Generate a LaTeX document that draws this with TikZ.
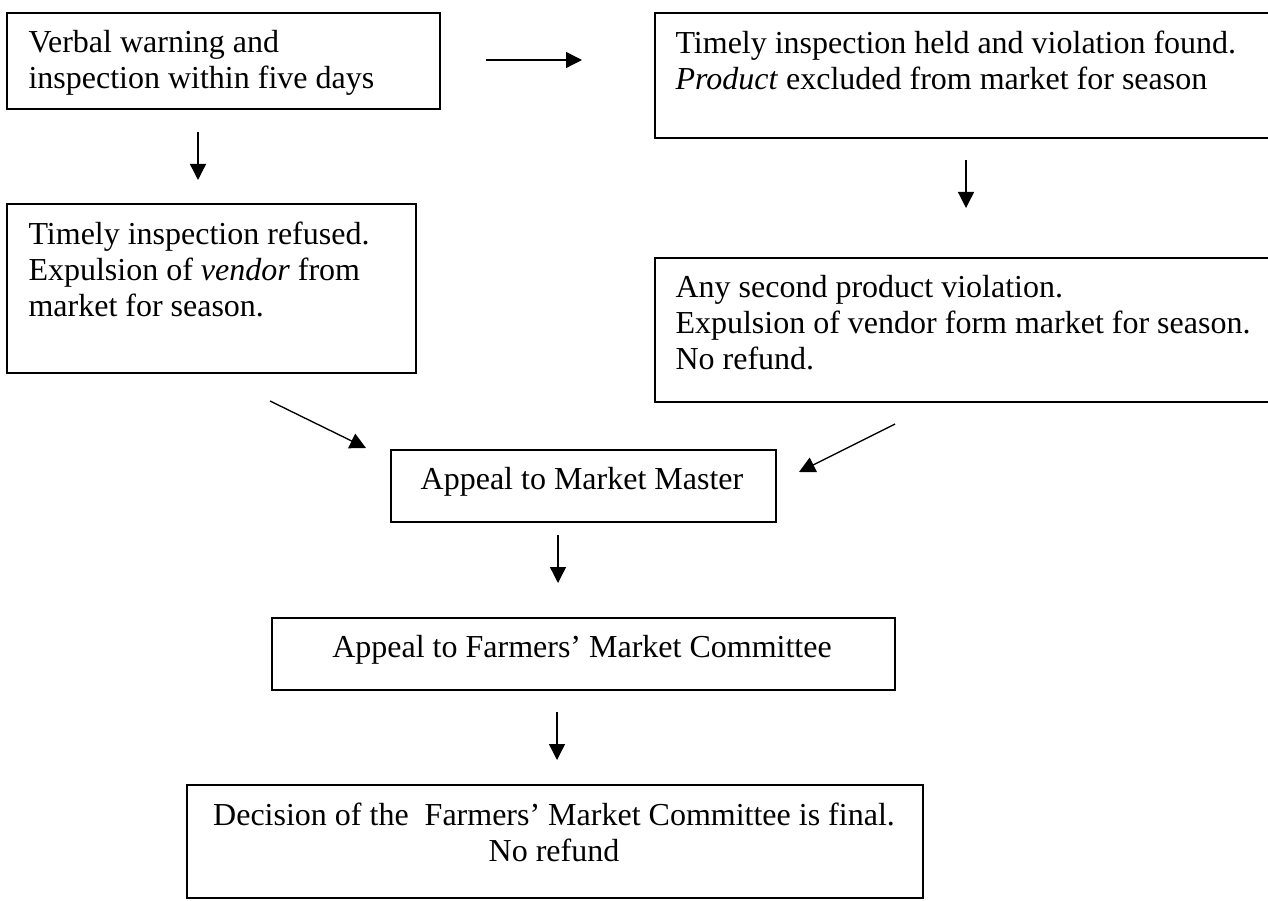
\documentclass[tikz,border=0pt]{standalone}
\usepackage{fontspec}
\setmainfont{Liberation Serif}
\usetikzlibrary{arrows.meta}

\tikzset{
  box/.style={draw, line width=0.7pt, inner sep=0pt, anchor=north west},
  boxtext/.style={anchor=north west, align=left, inner sep=0pt, font=\fontsize{12}{13.5}\selectfont},
  midtext/.style={anchor=north, align=center, inner sep=0pt, font=\fontsize{12}{13.5}\selectfont},
  arr/.style={-{Triangle[length=6pt,width=6pt]}, line width=0.5pt}
}

\begin{document}
\begin{tikzpicture}[x=0.375pt, y=-0.375pt]
  \useasboundingbox (0,0) rectangle (1268,901);
  \clip (0,0) rectangle (1268,901);

  % Draw the boxes
  \node[box, minimum width=433*0.375pt, minimum height=96*0.375pt] (verbal) at (6,12) {};
  \node[box, minimum width=620*0.375pt, minimum height=125*0.375pt] (held) at (654,12) {};
  \node[box, minimum width=409*0.375pt, minimum height=169*0.375pt] (refused) at (6,203) {};
  \node[box, minimum width=620*0.375pt, minimum height=144*0.375pt] (second) at (654,257) {};
  \node[box, minimum width=385*0.375pt, minimum height=72*0.375pt] (master) at (390,449) {};
  \node[box, minimum width=623*0.375pt, minimum height=72*0.375pt] (committee) at (271,617) {};
  \node[box, minimum width=736*0.375pt, minimum height=113*0.375pt] (decision) at (186,784) {};

  % Texts of the boxes
  \node[boxtext] (verbal-t) at (28,30) {Verbal warning and\\inspection within five days};
  \node[boxtext] (held-t) at (675,30) {Timely inspection held and violation found.\\\textit{Product} excluded from market for season};
  \node[boxtext] (refused-t) at (28,221) {Timely inspection refused.\\Expulsion of \textit{vendor} from\\market for season.};
  \node[boxtext] (second-t) at (675,275) {Any second product violation.\\Expulsion of vendor form market for season.\\No refund.};
  \node[midtext] (master-t) at (582,467) {Appeal to Market Master};
  \node[midtext] (committee-t) at (582,635) {Appeal to Farmers' Market Committee};
  \node[midtext] (decision-t) at (554,802) {Decision of the~\ Farmers' Market Committee is final.\\No refund};

  % Ends of the arrows
  \coordinate (h1) at (486,60);   \coordinate (h2) at (582,60);
  \coordinate (d1) at (198,132);  \coordinate (d2) at (198,180);
  \coordinate (e1) at (966,160);  \coordinate (e2) at (966,208);
  \coordinate (l1) at (270,401);  \coordinate (l2) at (366,448);
  \coordinate (r1) at (895,424);  \coordinate (r2) at (799,472);
  \coordinate (m1) at (558,535);  \coordinate (m2) at (558,583);
  \coordinate (c1) at (557,712);  \coordinate (c2) at (557,760);

  % Draw the arrows
  \draw[arr] (h1) -- (h2);
  \draw[arr] (d1) -- (d2);
  \draw[arr] (e1) -- (e2);
  \draw[arr] (l1) -- (l2);
  \draw[arr] (r1) -- (r2);
  \draw[arr] (m1) -- (m2);
  \draw[arr] (c1) -- (c2);
\end{tikzpicture}
\end{document}
